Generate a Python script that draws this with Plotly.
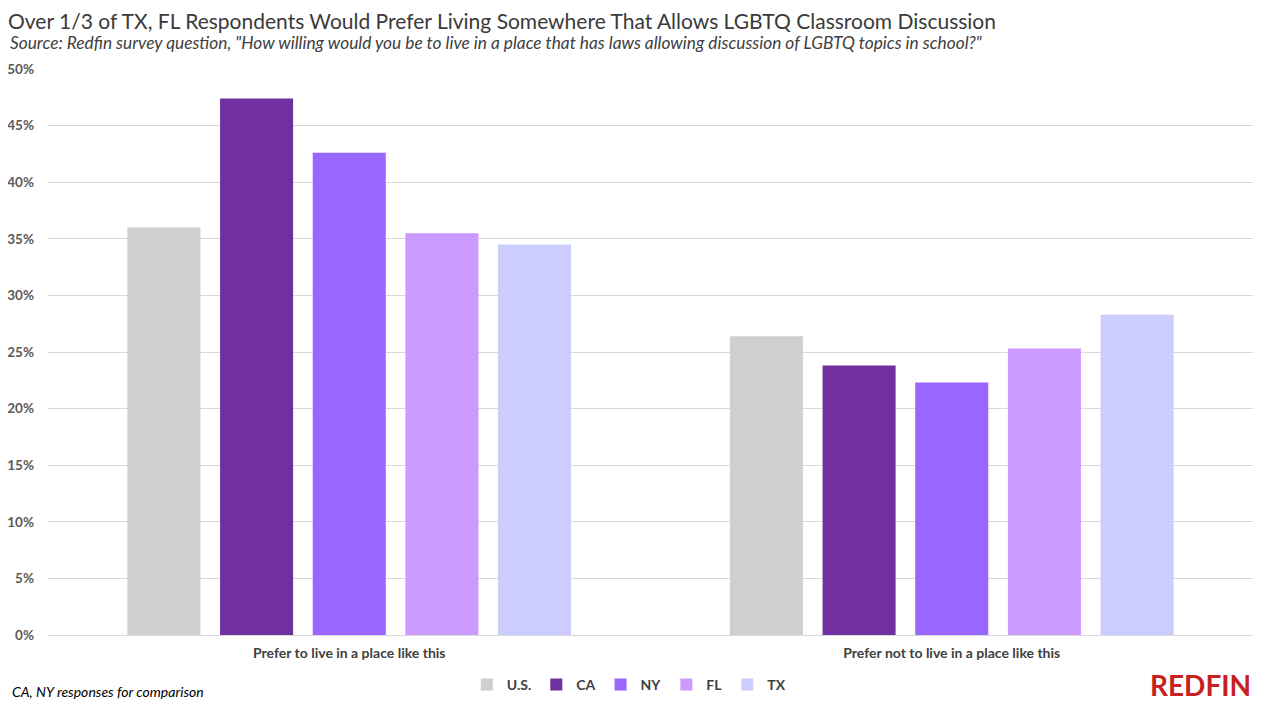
import plotly.graph_objects as go

# 数据
categories = ["Prefer to live in a place like this", "Prefer not to live in a place like this"]
regions = ["U.S.", "CA", "NY", "FL", "TX"]
us_vals = [0.360, 0.264]
ca_vals = [0.474, 0.238]
ny_vals = [0.426, 0.223]
fl_vals = [0.355, 0.253]
tx_vals = [0.345, 0.283]
y_ticks = [0, 0.05, 0.10, 0.15, 0.20, 0.25, 0.30, 0.35, 0.40, 0.45, 0.50]

colors = ["#D0CECE", "#7030A0", "#9966FF", "#CC99FF", "#CCCCFF"]
series = [us_vals, ca_vals, ny_vals, fl_vals, tx_vals]

font_main = "Lato, Open Sans, sans-serif"

fig = go.Figure()
for name, vals, color in zip(regions, series, colors):
    fig.add_trace(go.Bar(x=categories, y=vals, name="<b>" + name + "</b>", marker_color=color,
                         marker_line_width=0))

# 页面有 8px 的 body 边距，所以图尺寸减 8
fig.update_layout(
    width=1253, height=696,
    template="plotly_white",
    plot_bgcolor="white", paper_bgcolor="white",
    margin=dict(l=40, r=8, t=61, b=69, autoexpand=False),
    barmode="group",
    bargap=0.231,
    bargroupgap=0.212,
    font=dict(family=font_main, color="#404040"),
    title=dict(
        text="Over 1/3 of TX, FL Respondents Would Prefer Living Somewhere That Allows LGBTQ Classroom Discussion",
        x=0.0, xanchor="left", y=0.98, yanchor="middle",
        font=dict(size=21, color="#3A3A3A", family=font_main),
    ),
    legend=dict(
        orientation="h", x=0.482, xanchor="center", y=-0.060, yanchor="top",
        font=dict(size=14, color="#404040", family=font_main),
        itemwidth=30, traceorder="normal",
    ),
    showlegend=True,
)

fig.update_xaxes(showgrid=False, showline=False, ticks="", automargin=False,
                 ticklabelstandoff=8,
                 tickfont=dict(size=14, color="#404040", family=font_main, weight="bold"))
fig.update_yaxes(range=[0, 0.5], tickvals=y_ticks, tickformat=".0%", automargin=False,
                 showgrid=True, gridcolor="#D9D9D9", gridwidth=1,
                 zeroline=True, zerolinecolor="#D9D9D9", zerolinewidth=1,
                 tickfont=dict(size=13.5, color="#595959", family=font_main, weight="bold"),
                 ticklabelstandoff=13)

fig.add_annotation(
    text='<i>Source: Redfin survey question, "How willing would you be to live in a place that has laws allowing discussion of LGBTQ topics in school?"</i>',
    xref="paper", yref="paper", x=-0.0332, y=1.046, xanchor="left", yanchor="middle",
    showarrow=False, font=dict(size=17.3, color="#404040", family=font_main),
)
fig.add_annotation(
    text="<i>CA, NY responses for comparison</i>",
    xref="paper", yref="paper", x=-0.0315, y=-0.099, xanchor="left", yanchor="middle",
    showarrow=False, font=dict(size=14, color="#000000", family=font_main),
)
fig.add_annotation(
    text="<b>REDFIN</b>",
    xref="paper", yref="paper", x=1.0, y=-0.0875, xanchor="right", yanchor="middle",
    showarrow=False, font=dict(size=28, color="#C82021", family=font_main),
)

fig.write_html("out.html")
